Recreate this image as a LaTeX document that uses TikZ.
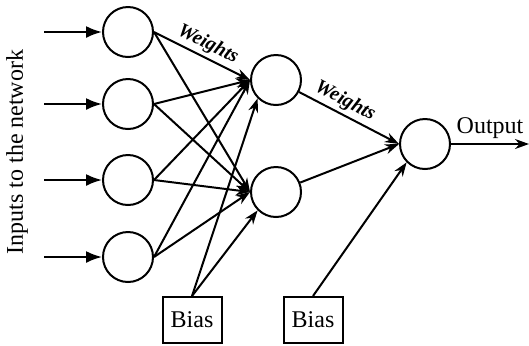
\documentclass[tikz,border=0pt]{standalone}
\usepackage{fontspec}
\setmainfont{Liberation Serif}
\usetikzlibrary{arrows.meta,
                positioning, % For easy node-relative placements
               }
\tikzstyle{edge} = [-{Stealth[length=7pt,width=5pt]}]
\tikzstyle{feed} = [-{Latex[length=8pt,width=6pt]}]
\tikzstyle{neuron} = [circle, minimum size=25pt, inner sep=0pt, draw=black]
\tikzstyle{biasbox} = [rectangle, draw=black, minimum width=29.5pt, minimum height=23pt, inner sep=0pt]
\tikzstyle{wlabel} = [font=\fontsize{10}{11}\selectfont\bfseries\itshape, sloped, above, inner sep=1.5pt]

\begin{document}
\begin{tikzpicture}[x=0.5pt, y=-0.5pt, line width=1pt, font=\fontsize{12}{14}\selectfont]
  \useasboundingbox (0, 0) rectangle (529, 345);
  % input layer
  \node (in1) [neuron] at (128, 32) {};
  \node (in2) [neuron] at (128, 104) {};
  \node (in3) [neuron] at (128, 180) {};
  \node (in4) [neuron] at (128, 257) {};
  \foreach \i/\y in {1/32, 2/104, 3/180, 4/257} {
    \coordinate (src\i) at (44, \y);
    \draw [feed] (src\i) -- (in\i.west);
  }
  \node (txt) [rotate=90] at (17, 152) {Inputs to the network};

  % hidden layer
  \node (h1) [neuron] at (276, 80) {};
  \node (h2) [neuron] at (276, 192) {};
  \foreach \i in {1, 2, 3, 4} {
    \path [edge] (in\i.east) edge (h1.west);
    \path [edge] (in\i.east) edge (h2.west);
  }
  \path (in1.east) -- node [wlabel, pos=0.5] {Weights} (h1.west);

  % output
  \node (out) [neuron] at (425, 144) {};
  \path [edge] (h1) edge node [wlabel, pos=0.4] {Weights} (out.west);
  \path [edge] (h2) edge (out.west);
  \coordinate (end) at (529, 144);
  \draw [edge] (out.east) -- node [above, inner sep=2pt] {Output} (end);

  % bias
  \node (b1) [biasbox] at (192, 320) {Bias};
  \node (b2) [biasbox] at (313, 320) {Bias};
  \path [edge] (b1.north) edge (h1.south west);
  \path [edge] (b1.north) edge (h2.south west);
  \path [edge] (b2.north) edge (out.south west);
\end{tikzpicture}
\end{document}
